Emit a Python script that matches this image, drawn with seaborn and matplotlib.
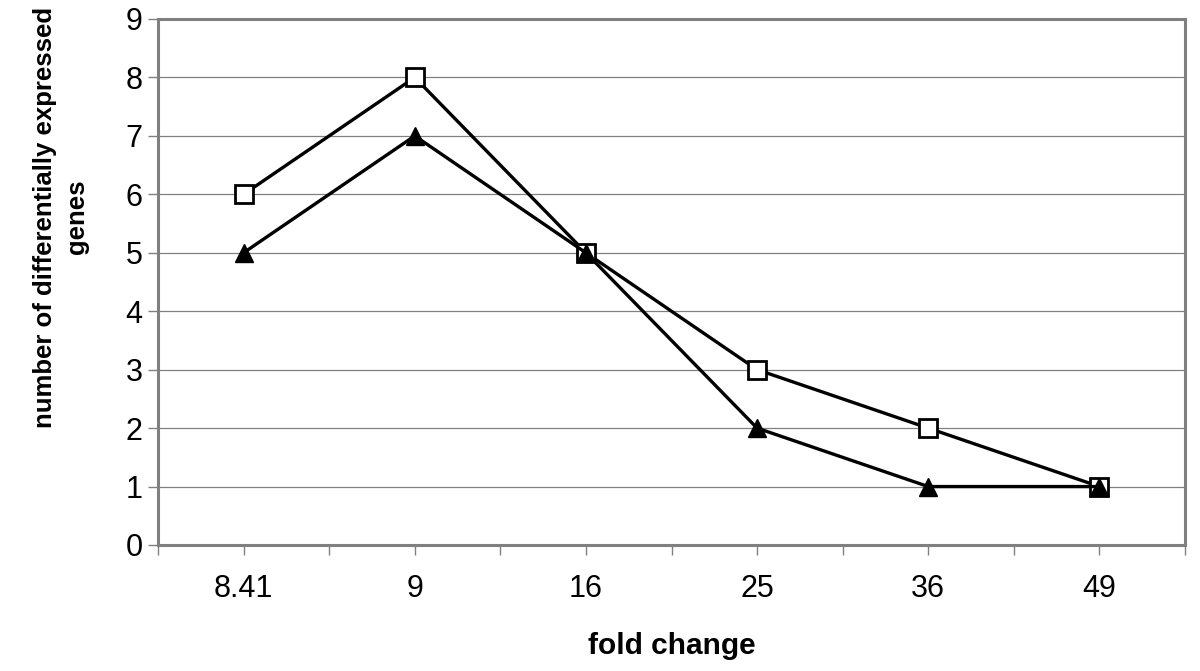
import matplotlib
matplotlib.use("Agg")
import matplotlib.pyplot as plt
import seaborn as sns
import pandas as pd
from matplotlib.ticker import FixedLocator

# ---- data ----
fold_change = ["8.41", "9", "16", "25", "36", "49"]
series_square = [6, 8, 5, 3, 2, 1]
series_triangle = [5, 7, 5, 2, 1, 1]
y_ticks = list(range(0, 10))

sns.set_theme(style="white")
plt.rcParams["font.family"] = ["Liberation Sans", "DejaVu Sans"]
plt.rcParams["text.color"] = "black"
plt.rcParams["axes.labelcolor"] = "black"

fig = plt.figure(figsize=(12, 6.71), dpi=100)
ax = fig.add_axes([158 / 1200, 1 - 545 / 671, 1027 / 1200, 526 / 671])

df_sq = pd.DataFrame({"fold": fold_change, "n": series_square})
df_tr = pd.DataFrame({"fold": fold_change, "n": series_triangle})

sns.lineplot(data=df_sq, x="fold", y="n", sort=False, ax=ax, color="black",
             linewidth=2.4, marker="s", markersize=13.5, markerfacecolor="white",
             markeredgecolor="black", markeredgewidth=2.0, zorder=3)
sns.lineplot(data=df_tr, x="fold", y="n", sort=False, ax=ax, color="black",
             linewidth=2.4, marker="^", markersize=13.5, markerfacecolor="black",
             markeredgecolor="black", markeredgewidth=1.0, zorder=4)

ax.set_xlim(-0.5, 5.5)
ax.set_ylim(0, 9)
ax.set_yticks(y_ticks)
ax.set_yticklabels([str(v) for v in y_ticks])
ax.xaxis.set_minor_locator(FixedLocator([i - 0.5 for i in range(len(fold_change) + 1)]))

ax.grid(axis="y", color="#808080", linewidth=0.9)
ax.grid(axis="x", visible=False)
ax.set_axisbelow(True)

for s in ax.spines.values():
    s.set_visible(True)
    s.set_color("#808080")
    s.set_linewidth(2.2)

ax.tick_params(axis="both", which="both", direction="out", color="#808080",
               width=1.0, length=7, labelsize=22, labelcolor="black")
ax.tick_params(axis="x", which="major", pad=14)
ax.tick_params(axis="x", which="minor", length=7)
ax.tick_params(axis="y", pad=4)
ax.tick_params(axis="x", bottom=True, which="both")
ax.tick_params(axis="y", left=True)

ax.set_xlabel("fold change", fontsize=21.5, fontweight="bold", color="black")
ax.xaxis.label.set_va("center")
ax.xaxis.set_label_coords(0.5, (545 - 646) / 526)

ax.set_ylabel("number of differentially expressed\ngenes", fontsize=18.5,
              fontweight="bold", multialignment="center", linespacing=1.45,
              color="black")
ax.yaxis.label.set_rotation_mode("default")
ax.yaxis.label.set_va("center")
ax.yaxis.label.set_ha("center")
ax.yaxis.set_label_coords((61 - 158) / 1027, (545 - 217) / 526)

fig.savefig("out.png", dpi=100)
